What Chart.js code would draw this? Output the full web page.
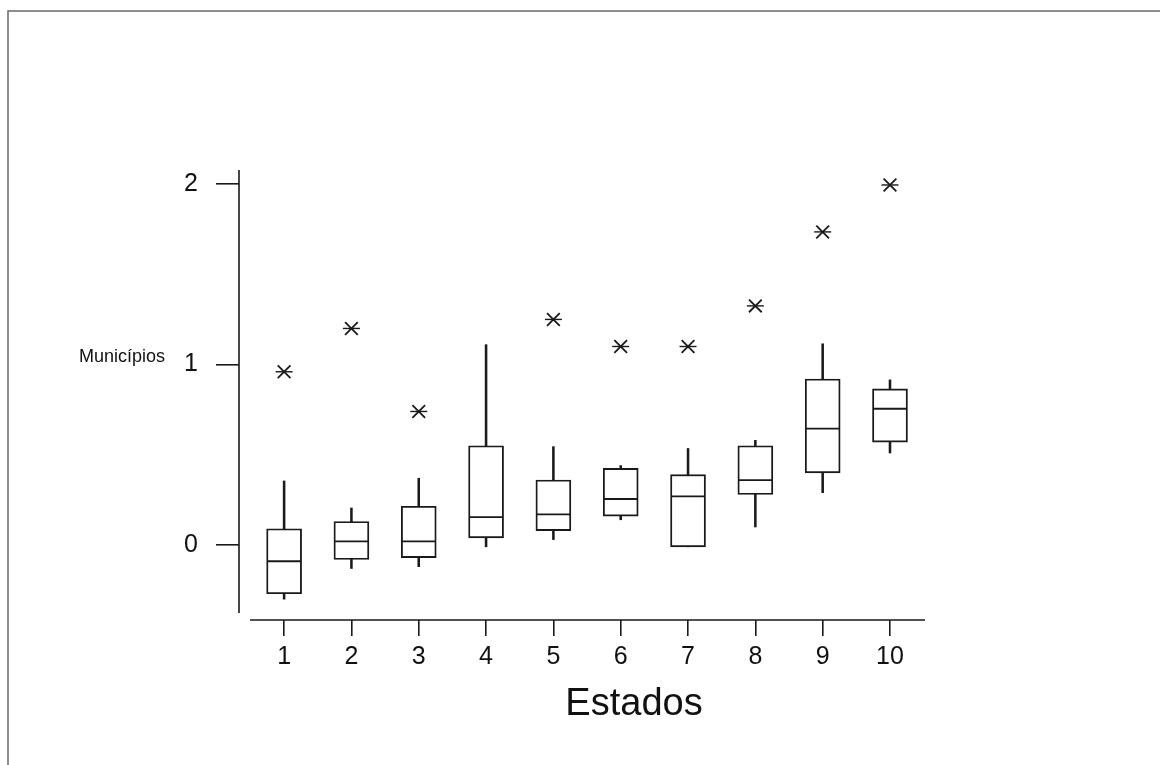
<!DOCTYPE html>
<html>
<head>
<meta charset="utf-8">
<script src="https://cdn.jsdelivr.net/npm/chart.js@4/dist/chart.umd.min.js"></script>
<style>
  body { margin: 0; background: #fff; }
</style>
</head>
<body>
<canvas id="canvas" width="1160" height="765"></canvas>
<script>
var estados = [1, 2, 3, 4, 5, 6, 7, 8, 9, 10];
var yTicks = [0, 1, 2];

var whiskerLow  = [-0.30, -0.13, -0.12, -0.01, 0.03, 0.14, -0.01, 0.10, 0.29, 0.51];
var q1          = [-0.27, -0.08, -0.07, 0.04, 0.08, 0.16, -0.01, 0.28, 0.40, 0.57];
var median      = [-0.09, 0.02, 0.02, 0.155, 0.17, 0.255, 0.27, 0.36, 0.645, 0.755];
var q3          = [0.09, 0.13, 0.215, 0.55, 0.36, 0.425, 0.39, 0.55, 0.92, 0.865];
var whiskerHigh = [0.355, 0.205, 0.37, 1.11, 0.545, 0.44, 0.535, 0.58, 1.115, 0.915];
var outliers    = [0.96, 1.20, 0.74, null, 1.25, 1.10, 1.10, 1.325, 1.735, 1.995];

var ink = '#1a1a1a';
var font = "'Liberation Sans', Arial, sans-serif";

var boxes = estados.map(function (e, i) { return {x: e, y: [q1[i], q3[i]]}; });
var whiskers = estados.map(function (e, i) { return {x: e, y: [whiskerLow[i], whiskerHigh[i]]}; });
var medians = estados.map(function (e, i) { return {x: e, y: median[i]}; });
var outlierPts = [];
estados.forEach(function (e, i) {
    if (outliers[i] !== null) outlierPts.push({x: e, y: outliers[i]});
});

// frame, offset axis lines and the two horizontal labels
var extras = {
    id: 'extras',
    beforeDraw: function (chart) {
        var ctx = chart.ctx;
        ctx.save();
        ctx.strokeStyle = '#6a6a6a';
        ctx.lineWidth = 1.5;
        ctx.beginPath();
        ctx.moveTo(8, 765);
        ctx.lineTo(8, 11);
        ctx.lineTo(1160, 11);
        ctx.stroke();
        ctx.restore();
    },
    afterDraw: function (chart) {
        var ctx = chart.ctx;
        var a = chart.chartArea;
        ctx.save();
        ctx.strokeStyle = ink;
        ctx.lineWidth = 1.6;
        ctx.beginPath();
        ctx.moveTo(a.left, a.top);
        ctx.lineTo(a.left, a.bottom - 7);
        ctx.moveTo(a.left + 11, a.bottom);
        ctx.lineTo(a.right, a.bottom);
        ctx.stroke();

        ctx.fillStyle = '#111';
        ctx.textBaseline = 'alphabetic';
        ctx.textAlign = 'left';
        ctx.font = '18px ' + font;
        ctx.fillText('Municípios', 79, 362);
        ctx.textAlign = 'center';
        ctx.font = '38px ' + font;
        ctx.fillText('Estados', 634, 715);
        ctx.restore();
    }
};

function plot() {
    var context = document.getElementById('canvas').getContext('2d');
    var boxChart = new Chart(context, {
        type: 'bar',
        data: {
            datasets: [
                {
                    type: 'scatter',
                    data: medians,
                    pointStyle: 'line',
                    pointRadius: 17,
                    borderColor: ink,
                    borderWidth: 1.8,
                    order: 0
                }, {
                    type: 'scatter',
                    data: outlierPts,
                    pointStyle: 'crossRot',
                    pointRadius: 9,
                    borderColor: ink,
                    borderWidth: 1.8,
                    order: 0
                }, {
                    type: 'scatter',
                    data: outlierPts,
                    pointStyle: 'line',
                    pointRadius: 8.5,
                    borderColor: ink,
                    borderWidth: 1.4,
                    order: 0
                }, {
                    data: boxes,
                    backgroundColor: '#fff',
                    borderColor: ink,
                    borderWidth: 1.9,
                    borderSkipped: false,
                    barThickness: 35,
                    grouped: false,
                    order: 1
                }, {
                    data: whiskers,
                    backgroundColor: ink,
                    borderWidth: 0,
                    barThickness: 1.9,
                    grouped: false,
                    order: 2
                }
            ]
        },
        options: {
            responsive: false,
            animation: false,
            events: [],
            layout: { padding: { top: 170, right: 235, bottom: 0, left: 0 } },
            plugins: { legend: { display: false }, tooltip: { enabled: false } },
            scales: {
                x: {
                    type: 'linear',
                    min: 0.33,
                    max: 10.52,
                    offset: false,
                    afterFit: function (scale) { scale.height = 145; },
                    afterBuildTicks: function (scale) {
                        scale.ticks = estados.map(function (v) { return {value: v}; });
                    },
                    border: { display: false },
                    grid: { offset: false, drawOnChartArea: false, tickLength: 16, color: ink, lineWidth: 1.6 },
                    ticks: { color: '#111', padding: 6, maxRotation: 0, autoSkip: false, font: { family: font, size: 25 } }
                },
                y: {
                    type: 'linear',
                    min: -0.4155,
                    max: 2.078,
                    afterFit: function (scale) { scale.width = 239; },
                    afterBuildTicks: function (scale) {
                        scale.ticks = yTicks.map(function (v) { return {value: v}; });
                    },
                    border: { display: false },
                    grid: { drawOnChartArea: false, tickLength: 23, color: ink, lineWidth: 1.6 },
                    ticks: { color: '#111', padding: 18, font: { family: font, size: 25 } }
                }
            }
        },
        plugins: [extras]
    });
}

plot();
</script>
</body>
</html>
